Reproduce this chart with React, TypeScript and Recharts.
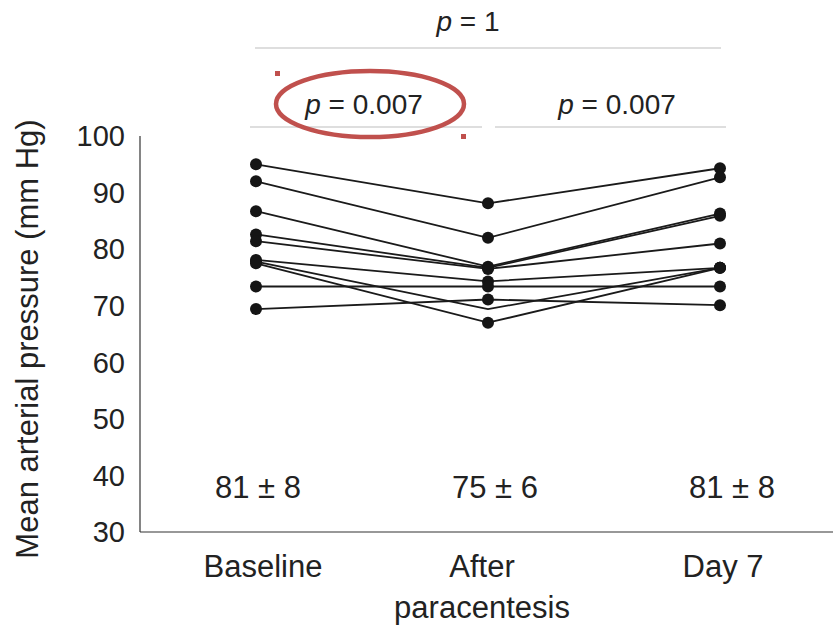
import { LineChart, Line, XAxis, YAxis } from "recharts";

// time points
const CATEGORIES = ["Baseline", "After\nparacentesis", "Day 7"];

// mean arterial pressure per patient (mm Hg), same patient order in each array
const BASELINE = [95.0, 92.0, 86.7, 82.6, 81.4, 78.1, 73.4, 69.4, 77.8, 77.5];
const AFTER = [88.1, 82.0, 76.9, 76.7, 76.5, 74.3, 73.4, 71.1, 69.4, 67.0];
const DAY7 = [94.3, 92.7, 86.3, 85.9, 81.0, 76.7, 73.4, 70.1, 76.7, 76.7];

// [patient, time point] pairs drawn without a marker
const HIDDEN_DOTS = [[8, 1]];

const MEANS = ["81 ± 8", "75 ± 6", "81 ± 8"];
const Y_TICKS = [30, 40, 50, 60, 70, 80, 90, 100];

const P_OVERALL = "1";
const P_FIRST = "0.007";
const P_SECOND = "0.007";

const W = 836;
const H = 627;
const LEFT = 140;
const TOP = 136;
const BOTTOM = 532;
const BAND = (W - LEFT) / CATEGORIES.length;
const cx = (i: number) => LEFT + BAND * (i + 0.5);

const FONT = "'Liberation Sans', Arial, sans-serif";
const INK = "#222";

const series = [BASELINE, AFTER, DAY7];
const rows = CATEGORIES.map((name, i) => {
  const row: Record<string, string | number> = { name };
  series[i].forEach((v, k) => {
    row[`p${k}`] = v;
  });
  return row;
});

const CategoryTick = (props: any) => {
  const { x, y, payload } = props;
  const lines = String(payload.value).split("\n");
  return (
    <g>
      {lines.map((l, i) => (
        <text
          key={i}
          x={x + (payload.index === 0 ? 7 : payload.index === 2 ? 3 : -6)}
          y={y + 37 + i * 41}
          textAnchor="middle"
          fontSize={31}
          fill={INK}
          fontFamily={FONT}
        >
          {l}
        </text>
      ))}
    </g>
  );
};

const makeDot = (patient: number) => (props: any) => {
  const { cx: x, cy: y, index } = props;
  const hidden = HIDDEN_DOTS.some(([p, t]) => p === patient && t === index);
  if (hidden || x == null) return <g key={`d${patient}-${index}`} />;
  return <circle key={`d${patient}-${index}`} cx={x} cy={y} r={6} fill="#151515" />;
};

const PText = ({ x, y, value }: { x: number; y: number; value: string }) => (
  <text x={x} y={y} textAnchor="middle" fontSize={28} fill={INK} fontFamily={FONT}>
    <tspan fontStyle="italic">p</tspan> = {value}
  </text>
);

export default function App() {
  return (
    <div style={{ position: "relative", width: W, height: H, background: "#fff" }}>
      <style>{`html,body{margin:0;overflow:hidden;background:#fff}`}</style>
      <LineChart width={W} height={H} data={rows} margin={{ top: TOP, right: 0, bottom: 0, left: 0 }}>
        <XAxis
          dataKey="name"
          height={H - BOTTOM}
          padding={{ left: BAND / 2, right: BAND / 2 }}
          axisLine={{ stroke: "#333", strokeWidth: 1.2 }}
          tickLine={false}
          tick={<CategoryTick />}
          interval={0}
        />
        <YAxis
          width={LEFT}
          domain={[30, 100]}
          ticks={Y_TICKS}
          axisLine={{ stroke: "#333", strokeWidth: 1.2 }}
          tickLine={false}
          tickSize={0}
          tickMargin={15}
          tick={{ fontSize: 29, fill: INK, fontFamily: FONT }}
        />
        {BASELINE.map((_, k) => (
          <Line
            key={k}
            dataKey={`p${k}`}
            stroke="#1a1a1a"
            strokeWidth={1.8}
            dot={makeDot(k)}
            activeDot={false}
            isAnimationActive={false}
          />
        ))}
      </LineChart>

      <svg
        width={W}
        height={H}
        style={{ position: "absolute", left: 0, top: 0, pointerEvents: "none" }}
      >
        <text
          transform={`translate(38, ${(TOP + BOTTOM) / 2 + 5}) rotate(-90)`}
          textAnchor="middle"
          fontSize={31}
          fill={INK}
          fontFamily={FONT}
        >
          Mean arterial pressure (mm Hg)
        </text>

        {MEANS.map((m, i) => (
          <text
            key={i}
            x={cx(i) + 2 + i * 5}
            y={498}
            textAnchor="middle"
            fontSize={31}
            fill={INK}
            fontFamily={FONT}
          >
            {m}
          </text>
        ))}

        {/* pairwise comparison brackets */}
        <PText x={468} y={31} value={P_OVERALL} />
        <line x1={255} x2={721} y1={48} y2={48} stroke="#bdbdbd" strokeWidth={1.2} />
        <PText x={364} y={114} value={P_FIRST} />
        <line x1={250} x2={482} y1={127} y2={127} stroke="#bdbdbd" strokeWidth={1.2} />
        <PText x={617} y={114} value={P_SECOND} />
        <line x1={495} x2={726} y1={127} y2={127} stroke="#bdbdbd" strokeWidth={1.2} />

        <ellipse cx={370} cy={104} rx={94} ry={33} fill="none" stroke="#c0504d" strokeWidth={4.5} />
        <rect x={275} y={71} width={5} height={5} fill="#c0504d" />
        <rect x={461} y={134} width={5} height={5} fill="#c0504d" />
      </svg>
    </div>
  );
}
